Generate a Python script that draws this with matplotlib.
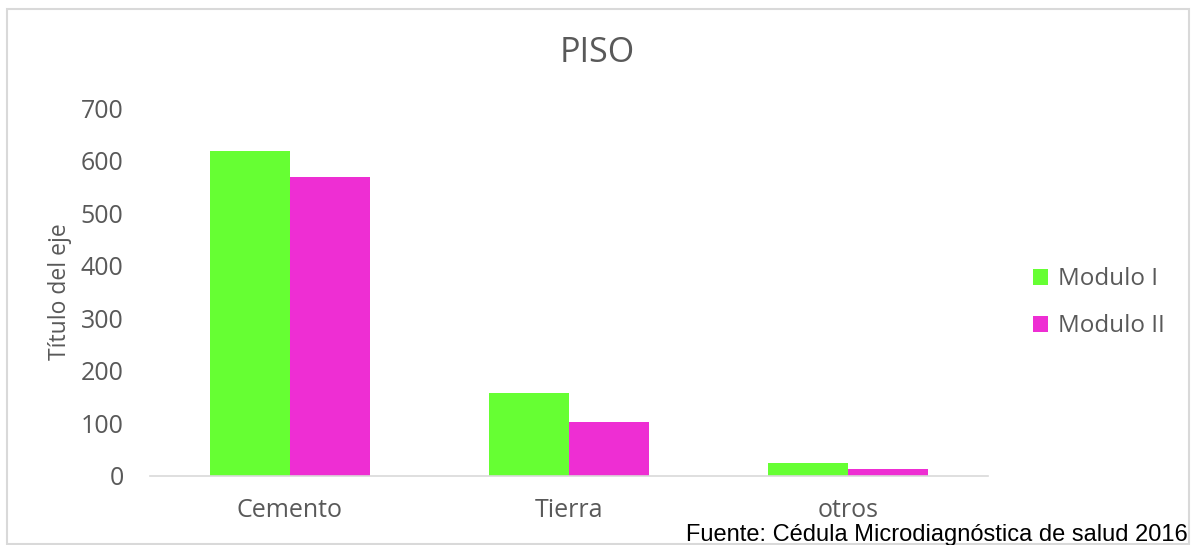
import matplotlib
matplotlib.use('Agg')
import matplotlib.pyplot as plt
import numpy as np
from matplotlib.patches import Rectangle

# Data
categories = ['Cemento', 'Tierra', 'otros']
modulo_1 = [618, 158, 25]
modulo_2 = [568, 102, 12]
series_names = ['Modulo I', 'Modulo II']
yticks = [0, 100, 200, 300, 400, 500, 600, 700]

green = '#66FF33'
magenta = '#EE2ED3'
gray_text = '#595959'
gray_line = '#D9D9D9'

plt.rcParams['font.family'] = ['Open Sans', 'DejaVu Sans']

fig = plt.figure(figsize=(11.96, 5.45), dpi=100)
ax = fig.add_axes([150 / 1196, (545 - 475.7) / 545, 838 / 1196, (475.7 - 108) / 545])

x = np.arange(len(categories))
w = 0.286
ax.bar(x - w / 2, modulo_1, width=w, color=green, label=series_names[0])
ax.bar(x + w / 2, modulo_2, width=w, color=magenta, label=series_names[1])

ax.set_xlim(-0.5, len(categories) - 0.5)
ax.set_ylim(0, 700)
ax.set_yticks(yticks)
ax.set_xticks(x)
ax.set_xticklabels(categories)
ax.tick_params(axis='both', length=0, labelsize=18, colors=gray_text)
ax.tick_params(axis='y', pad=19)
ax.tick_params(axis='x', pad=16)
for s in ['top', 'right', 'left']:
    ax.spines[s].set_visible(False)
ax.spines['bottom'].set_color(gray_line)
ax.spines['bottom'].set_linewidth(1.2)

ax.set_ylabel('Título del eje', fontsize=16.5, color=gray_text, labelpad=6)

fig.text(597 / 1196, 1 - 53 / 545, 'PISO', fontsize=24.5, color=gray_text,
         ha='center', va='center')

leg = ax.legend(loc='center left', bbox_to_anchor=(1.027, 0.47), frameon=False,
                fontsize=17.5, handlelength=0.65, handleheight=0.65,
                handletextpad=0.4, labelspacing=0.95)
for t in leg.get_texts():
    t.set_color(gray_text)

# outer chart border
fig.patches.append(Rectangle((7 / 1196, 1 / 545), 1182 / 1196, 535 / 545,
                             transform=fig.transFigure, fill=False,
                             edgecolor=gray_line, linewidth=1.5))

fig.text(1188 / 1196, -1 / 545, 'Fuente: Cédula Microdiagnóstica de salud 2016',
         fontsize=17, color='black', family='Liberation Sans',
         ha='right', va='bottom')

fig.savefig('out.png', dpi=100)
